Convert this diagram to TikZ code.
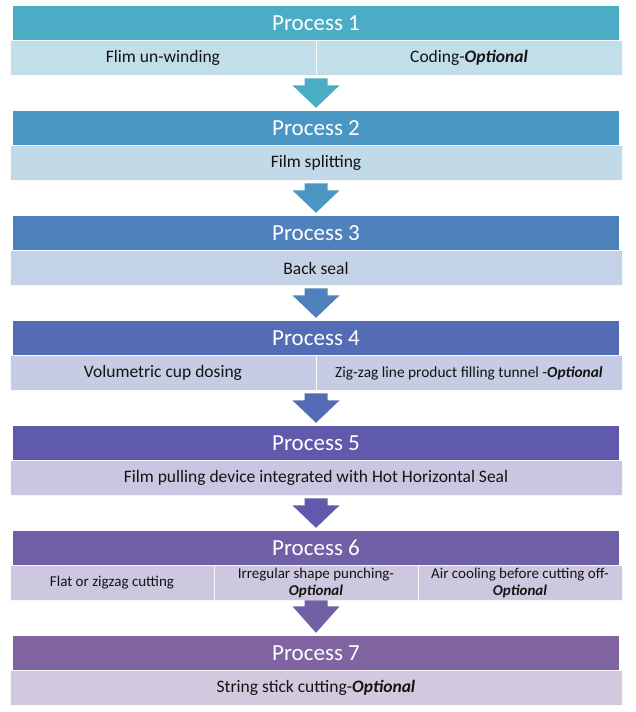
\documentclass[tikz,border=0pt]{standalone}
\usepackage{fontspec}
\setmainfont{Carlito}
\usetikzlibrary{calc}
\definecolor{c1}{RGB}{75,172,198}
\definecolor{c2}{RGB}{74,151,196}
\definecolor{c3}{RGB}{79,129,189}
\definecolor{c4}{RGB}{84,108,181}
\definecolor{c5}{RGB}{95,90,171}
\definecolor{c6}{RGB}{112,96,166}
\definecolor{c7}{RGB}{128,100,162}
\definecolor{base}{RGB}{245,245,248}
\definecolor{txt}{RGB}{20,20,20}
\colorlet{s1}{c1!30!base}
\colorlet{s2}{c2!30!base}
\colorlet{s3}{c3!30!base}
\colorlet{s4}{c4!30!base}
\colorlet{s5}{c5!30!base}
\colorlet{s6}{c6!30!base}
\colorlet{s7}{c7!30!base}
\newcommand\opt{\textbf{\textit{Optional}}}
\newcommand\blockarr[5]{% from, to, colour, shaft top offset, head start offset
  \fill[#3] ($(#1.south)+(-11.5,#4)$) -- ($(#1.south)+(11.5,#4)$) -- ($(#1.south)+(11.5,#5)$)
    -- ($(#1.south)+(23.5,#5)$) -- ($(#2.north)+(0,3)$) -- ($(#1.south)+(-23.5,#5)$)
    -- ($(#1.south)+(-11.5,#5)$) -- cycle;}
\tikzset{
  hdr/.style={fill=#1, text=white, minimum width=606pt, minimum height=34pt, inner sep=0pt,
    font=\fontsize{23}{26}\selectfont},
  rowbox/.style={fill=#1, draw=#1!45!white, line width=0.8pt, minimum height=35pt, inner sep=0pt},
  cell/.style={draw=white, draw opacity=0.7, line width=0.8pt, minimum height=35pt, inner sep=0pt,
    text=txt, align=center, font=\fontsize{17.5}{19}\selectfont},
  small/.style={font=\fontsize{15.4}{17}\selectfont},
  tiny/.style={font=\fontsize{15}{16.5}\selectfont},
}
\begin{document}
\begin{tikzpicture}[x=1pt,y=1pt]
\useasboundingbox (0,0) rectangle (635,712);
\fill[white] (0,0) rectangle (635,712);
% y measured from top: use 712 - y
% Process 1
\node[hdr=c1] (h1) at (316,712-23) {Process 1};
\node[rowbox=s1, minimum width=612pt] (s1) at (316,712-57.5) {};
\node[cell, minimum width=306pt] (s1a) at (163,712-58) {Flim un-winding};
\node[cell, minimum width=306pt] (s1b) at (469,712-58) {Coding-\opt};
% Process 2
\node[hdr=c2] (h2) at (316,712-128) {Process 2};
\node[rowbox=s2, minimum width=612pt] (s2) at (316,712-162.5) {};
\node[cell, minimum width=612pt] (s2a) at (316,712-163) {Film splitting};
% Process 3
\node[hdr=c3] (h3) at (316,712-233) {Process 3};
\node[rowbox=s3, minimum width=612pt] (s3) at (316,712-267.5) {};
\node[cell, minimum width=612pt] (s3a) at (316,712-268) {Back seal};
% Process 4
\node[hdr=c4] (h4) at (316,712-338) {Process 4};
\node[rowbox=s4, minimum width=612pt] (s4) at (316,712-372.5) {};
\node[cell, minimum width=306pt] (s4a) at (163,712-373) {Volumetric cup dosing};
\node[cell, small, minimum width=306pt] (s4b) at (469,712-373) {Zig-zag line product filling tunnel -\opt};
% Process 5
\node[hdr=c5] (h5) at (316,712-443) {Process 5};
\node[rowbox=s5, minimum width=612pt] (s5) at (316,712-477.5) {};
\node[cell, minimum width=612pt] (s5a) at (316,712-478) {Film pulling device integrated with Hot Horizontal Seal};
% Process 6
\node[hdr=c6] (h6) at (316,712-548) {Process 6};
\node[rowbox=s6, minimum width=612pt] (s6) at (316,712-582.5) {};
\node[cell, tiny, minimum width=204pt] (s6a) at (112,712-583) {Flat or zigzag cutting};
\node[cell, tiny, minimum width=204pt] (s6b) at (316,712-583) {Irregular shape punching-\\\opt};
\node[cell, tiny, minimum width=204pt] (s6c) at (520,712-583) {Air cooling before cutting off-\\\opt};
% Process 7
\node[hdr=c7] (h7) at (316,712-653) {Process 7};
\node[rowbox=s7, minimum width=612pt] (s7) at (316,712-687.5) {};
\node[cell, minimum width=612pt] (s7a) at (316,712-688) {String stick cutting-\opt};
% arrows
\blockarr{s1}{h2}{c1}{-3}{-10}
\blockarr{s2}{h3}{c2}{-3}{-10}
\blockarr{s3}{h4}{c3}{-3}{-10}
\blockarr{s4}{h5}{c4}{-3}{-10}
\blockarr{s5}{h6}{c5}{-3}{-10}
\blockarr{s6}{h7}{c6}{0}{-6}
\end{tikzpicture}
\end{document}
